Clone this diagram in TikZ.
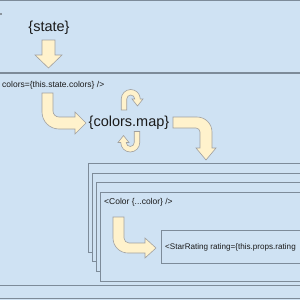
\documentclass[tikz,border=0pt]{standalone}
\usepackage{fontspec}
\setmainfont{Liberation Sans}
\definecolor{bg}{HTML}{CFE2F3}
\definecolor{edge}{HTML}{7D8B99}
\definecolor{cream}{HTML}{FFF2CC}
\definecolor{aedge}{HTML}{A0A0A0}
\definecolor{txt}{HTML}{1A1A1A}
\begin{document}
\begin{tikzpicture}[x=1pt,y=-1pt,
  box/.style={draw=edge,fill=bg,line width=0.9pt},
  barrow/.style={draw=aedge,fill=cream,line width=0.6pt,line join=miter},
  small/.style={font=\fontsize{8.5}{10}\selectfont,text=txt,inner sep=0pt,anchor=west},
  big/.style={font=\fontsize{14.5}{17}\selectfont,text=txt,inner sep=0pt}]
\useasboundingbox (0,0) rectangle (300,300);
\fill[bg] (0,0) rectangle (300,300);
\begin{scope}
\clip (0,0) rectangle (300,300);
% outer regions
\draw[box] (-5,0.5) rectangle (305,72.5);
\draw[box] (-5,73.5) rectangle (305,285);
\draw[box] (-5,298) rectangle (305,310);
\fill[txt!80] (1,14) circle (0.9);
% texts of upper regions
\node[big] (state) at (49,28) {\{state\}};
\node[small] (cl) at (2,85) {colors=\{this.state.colors\} />};
\node[big,anchor=west] (map) at (88.5,123) {\{colors.map\}};
% down arrow
\draw[barrow] (42,40) -- (55,40) -- (55,55) -- (62,55) -- (48.5,68) -- (35,55) -- (42,55) -- cycle;
% curved arrow to colors.map
\draw[barrow] (53,93) -- (53,111) arc[start angle=180,end angle=90,radius=6]
  -- (75,117) -- (75,112) -- (86,123) -- (75,134) -- (75,129) -- (59,129)
  arc[start angle=90,end angle=180,radius=17] -- (42,93) -- cycle;
% loop arrows
\begin{scope}[shift={(130.75,99)}]
\draw[barrow] (-9.5,11) -- (-9.5,0) arc[start angle=180,end angle=360,radius=9.5]
  -- (12.25,0) -- (6.75,7) -- (1.25,0) -- (4,0)
  arc[start angle=0,end angle=-180,radius=4] -- (-4,11) -- cycle;
\end{scope}
\begin{scope}[shift={(130.25,142.5)},rotate=180]
\draw[barrow] (-9.5,11) -- (-9.5,0) arc[start angle=180,end angle=360,radius=9.5]
  -- (12.25,0) -- (6.75,7) -- (1.25,0) -- (4,0)
  arc[start angle=0,end angle=-180,radius=4] -- (-4,11) -- cycle;
\end{scope}
% arrow to stack
\draw[barrow] (173,117) -- (197,117) arc[start angle=270,end angle=360,radius=15]
  -- (212,148) -- (216,148) -- (206,160) -- (196,148) -- (200,148) -- (200,132)
  arc[start angle=0,end angle=-90,radius=4] -- (173,128) -- cycle;
% stacked Color boxes
\draw[box] (88,163) rectangle (310,252);
\draw[box] (92,173) rectangle (310,261);
\draw[box] (96,182) rectangle (310,271);
\draw[box] (100,192) rectangle (310,281);
\node[small] (color) at (104,202) {<Color \{...color\} />};
% arrow inside
\draw[barrow] (113,217) -- (124,217) -- (124,238) arc[start angle=180,end angle=90,radius=5]
  -- (145,243) -- (145,238) -- (156,248) -- (145,258) -- (145,253) -- (128,253)
  arc[start angle=90,end angle=180,radius=15] -- cycle;
% StarRating box
\draw[box] (161,230) rectangle (310,263);
\node[small,font=\fontsize{8.1}{10}\selectfont] (star) at (165,247) {<StarRating rating=\{this.props.rating};
\end{scope}
\end{tikzpicture}
\end{document}
